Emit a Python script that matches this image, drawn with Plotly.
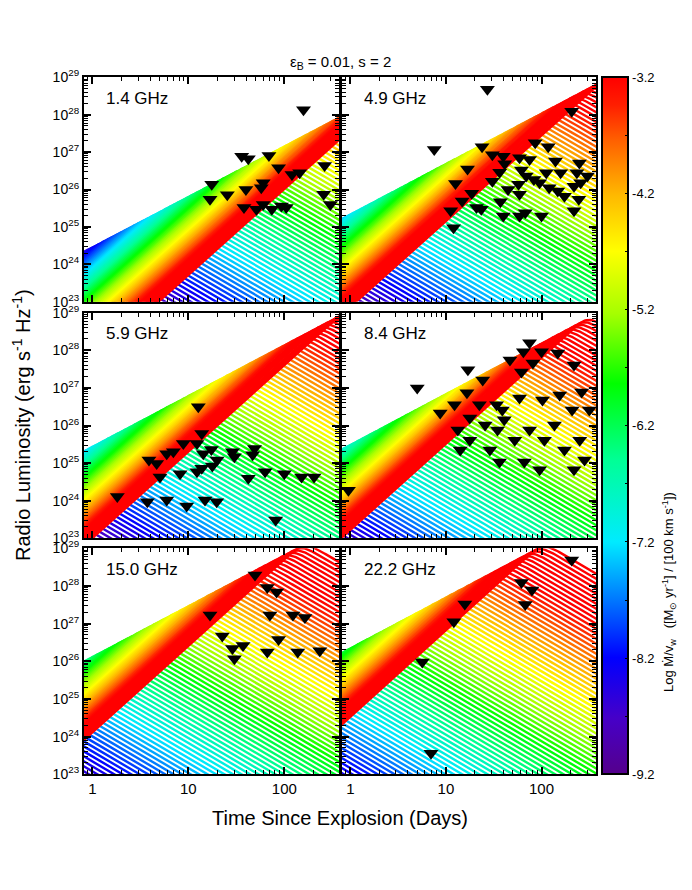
import numpy as np
import plotly.graph_objects as go

# ---------------- data ----------------
panel_labels = ["1.4 GHz", "4.9 GHz", "5.9 GHz", "8.4 GHz", "15.0 GHz", "22.2 GHz"]

# model light-curve family, per panel: log L at t = 1 d for the densest wind of the grid
thick_norm = [21.39, 22.84, 22.98, 23.20, 24.09, 24.50]   # optically thick rise
thin_norm = [34.03, 33.20, 33.18, 32.72, 32.57, 32.26]    # optically thin decline
rise_index = 2.3
rise_mdot_index = -0.52
decline_index = -1.5
decline_mdot_index = 1.56
peak_sharpness = 2.5
log_mdot_max = -2.35
log_mdot_grid = np.round(np.arange(-9.2, log_mdot_max + 1e-6, 0.085), 4)

# upper limits (log10 days, log10 erg/s/Hz)
lim_1p4_logt = [2.20, 1.556, 1.625, 1.84, 1.94, 1.244, 1.226, 1.406, 1.60, 1.78, 1.76, 1.58, 1.71,
                1.78, 1.87, 1.97, 2.02, 2.08, 2.16, 2.42, 2.41, 2.48]
lim_1p4_logL = [28.13, 26.89, 26.82, 26.91, 26.58, 26.14, 25.74, 25.86, 26.00, 26.18, 26.05, 25.52, 25.47,
                25.60, 25.47, 25.56, 25.52, 26.40, 26.45, 26.64, 25.87, 25.60]
lim_4p9_logt = [1.434, 0.878, 1.378, 1.486, 1.60, 2.316, 1.934, 2.07, 1.77, 1.875, 2.146, 2.396, 1.226,
                1.615, 1.5625, 1.79, 2.05, 2.20, 2.37, 2.48, 1.10, 1.486, 1.65, 1.76, 1.84, 1.92, 1.98,
                2.08, 2.17, 2.24, 2.34, 2.41, 2.39, 1.27, 1.17, 1.57, 1.77, 1.32, 1.37, 1.05, 1.60, 1.77,
                1.83, 2.00, 2.34, 1.08]
lim_4p9_logL = [28.68, 27.07, 27.14, 26.93, 26.89, 28.09, 27.25, 27.14, 26.85, 26.80, 26.76, 26.71, 26.55,
                26.69, 26.46, 26.52, 26.45, 26.45, 26.45, 26.36, 26.16, 26.22, 26.00, 26.14, 26.36, 26.27,
                26.18, 26.05, 25.96, 25.82, 26.09, 26.18, 25.74, 25.90, 25.69, 25.67, 25.87, 25.52, 25.47,
                25.43, 25.29, 25.29, 25.38, 25.29, 25.43, 24.98]
lim_5p9_logt = [1.104, 1.14, 1.09, 0.948, 0.844, 0.775, 0.59, 0.67, 0.705, 0.914, 1.156, 1.24, 1.30, 1.25,
                1.14, 1.09, 1.46, 1.48, 1.69, 1.67, 1.625, 1.80, 2.00, 2.18, 2.31, 0.26, 0.573, 0.775,
                0.983, 1.174, 1.296, 1.91]
lim_5p9_logL = [26.50, 25.79, 25.52, 25.52, 25.30, 25.25, 25.08, 24.99, 24.63, 24.72, 25.25, 25.36, 25.08,
                24.92, 24.86, 24.77, 25.30, 25.17, 25.39, 25.22, 24.60, 24.77, 24.72, 24.63, 24.63, 24.11,
                23.97, 24.02, 23.86, 24.02, 23.97, 23.49]
lim_8p4_logt = [1.875, 1.81, 2.00, 2.17, 1.67, 1.91, 2.34, 1.23, 1.79, 1.385, 0.70, 1.22, 1.09, 1.35, 1.53,
                1.59, 1.77, 2.01, 2.19, 2.42, 2.32, 2.50, 0.94, 1.25, 1.41, 1.54, 1.61, 1.72, 1.875, 2.03,
                2.135, 2.24, 2.40, 2.45, 1.25, 1.46, 1.56, 1.82, 1.98, 2.34, 1.15, 1.125, -0.02]
lim_8p4_logL = [28.20, 27.96, 27.96, 27.93, 27.74, 27.66, 27.61, 27.48, 27.42, 27.21, 27.00, 26.87, 26.55,
                26.55, 26.55, 26.41, 26.73, 26.68, 26.81, 26.89, 26.41, 26.41, 26.33, 26.20, 26.01, 25.88,
                26.15, 25.61, 25.88, 25.61, 26.01, 25.35, 25.61, 25.08, 25.61, 25.35, 25.03, 25.03, 24.82,
                24.82, 25.35, 25.88, 24.28]
lim_15p0_logt = [1.695, 1.823, 1.92, 1.226, 1.85, 2.09, 2.215, 1.354, 1.94, 1.46, 1.57, 1.48, 1.823, 2.14, 2.37]
lim_15p0_logL = [28.29, 27.96, 27.84, 27.23, 27.23, 27.23, 27.16, 26.67, 26.58, 26.34, 26.42, 26.07, 26.25,
                 26.25, 26.28]
lim_22p2_logt = [2.316, 1.79, 1.90, 1.83, 1.198, 1.083, 0.753, 0.844]
lim_22p2_logL = [28.69, 28.09, 27.89, 27.51, 27.52, 27.05, 25.98, 23.56]

limits_logt = [lim_1p4_logt, lim_4p9_logt, lim_5p9_logt, lim_8p4_logt, lim_15p0_logt, lim_22p2_logt]
limits_logL = [lim_1p4_logL, lim_4p9_logL, lim_5p9_logL, lim_8p4_logL, lim_15p0_logL, lim_22p2_logL]

y_tick_exponents = [23, 24, 25, 26, 27, 28, 29]
x_tick_values = [1, 10, 100]
cbar_ticks = [-3.2, -3.7, -4.2, -4.7, -5.2, -5.7, -6.2, -6.7, -7.2, -7.7, -8.2, -8.7, -9.2]
cbar_labels = ["-3.2", "", "-4.2", "", "-5.2", "", "-6.2", "", "-7.2", "", "-8.2", "", "-9.2"]

# ---------------- styling ----------------
W, H = 676, 874          # page is 692 x 890 with an 8 px body margin
col_px = [(76, 331), (334, 588)]
row_px = [(69.3, 293.7), (304.7, 530.3), (540.3, 766.3)]
x_range = [-0.087, 2.57]
y_range = [23, 29]
cmin, cmax = -9.2, -3.2

cstops = [(0.0, (85, 0, 140)), (0.08, (70, 0, 200)), (0.167, (0, 0, 255)), (0.25, (0, 120, 255)),
          (0.333, (0, 235, 255)), (0.45, (0, 255, 150)), (0.56, (0, 255, 0)), (0.66, (165, 255, 0)),
          (0.75, (255, 255, 0)), (0.83, (255, 185, 0)), (0.91, (255, 95, 0)), (0.96, (255, 30, 0)),
          (1.0, (255, 0, 0))]
colorscale = [[p, "rgb(%d,%d,%d)" % c] for p, c in cstops]


def cmap(val):
    f = (val - cmin) / (cmax - cmin)
    f = min(max(f, 0), 1)
    for (p0, c0), (p1, c1) in zip(cstops[:-1], cstops[1:]):
        if f <= p1:
            w = (f - p0) / (p1 - p0) if p1 > p0 else 0
            c = [round(c0[j] + w * (c1[j] - c0[j])) for j in range(3)]
            return "rgb(%d,%d,%d)" % tuple(c)
    return "rgb(255,0,0)"


fig = go.Figure()
layout = dict(width=W, height=H, margin=dict(l=0, r=0, t=0, b=0, autoexpand=False),
              paper_bgcolor="white", plot_bgcolor="white", showlegend=False,
              font=dict(family="Liberation Sans, Arial, sans-serif", color="black"))

minor_x = [m * 10 ** k for k in range(-1, 3) for m in range(2, 10)]
minor_y = [m * 10.0 ** k for k in range(23, 29) for m in range(2, 10)]

u = np.linspace(-0.15, 2.65, 170)
annotations = []
for i in range(6):
    r, c = divmod(i, 2)
    n = i + 1
    xa = "x" if n == 1 else "x%d" % n
    ya = "y" if n == 1 else "y%d" % n
    x0, x1 = col_px[c]
    y0, y1 = row_px[r]
    layout["xaxis" if n == 1 else "xaxis%d" % n] = dict(
        type="log", range=x_range, domain=[x0 / W, x1 / W], anchor=ya, automargin=False,
        showline=True, linecolor="black", linewidth=2.2, mirror="ticks",
        ticks="inside", ticklen=7, tickwidth=1.5, tickcolor="black",
        tickmode="array", tickvals=x_tick_values, ticktext=[str(v) for v in x_tick_values],
        showticklabels=(r == 2), tickfont=dict(size=15), showgrid=False, zeroline=False,
        minor=dict(tickmode="array", tickvals=minor_x, ticks="inside", ticklen=4,
                   tickwidth=1, tickcolor="black", showgrid=False))
    layout["yaxis" if n == 1 else "yaxis%d" % n] = dict(
        type="log", range=y_range, domain=[1 - y1 / H, 1 - y0 / H], anchor=xa, automargin=False,
        showline=True, linecolor="black", linewidth=2.2, mirror="ticks",
        ticks="inside", ticklen=7, tickwidth=1.5, tickcolor="black",
        tickmode="array", tickvals=[10.0 ** e for e in y_tick_exponents],
        ticktext=["10<sup>%d</sup>" % e for e in y_tick_exponents],
        showticklabels=(c == 0), tickfont=dict(size=14), showgrid=False, zeroline=False,
        minor=dict(tickmode="array", tickvals=minor_y, ticks="inside", ticklen=4,
                   tickwidth=1, tickcolor="black", showgrid=False))

    # light curve family, low mass-loss first so denser winds overlay
    for lm in log_mdot_grid:
        d = lm - log_mdot_max
        thick = thick_norm[i] + rise_index * u + rise_mdot_index * d
        thin = thin_norm[i] + decline_index * u + decline_mdot_index * d
        k = peak_sharpness
        v = thick - np.log10(1 + 10 ** (k * (thick - thin))) / k
        fig.add_trace(go.Scatter(x=10 ** u, y=10 ** v, mode="lines", xaxis=xa, yaxis=ya,
                                 line=dict(color=cmap(lm), width=2.4), hoverinfo="skip"))

    fig.add_trace(go.Scatter(x=10 ** np.array(limits_logt[i]), y=10 ** np.array(limits_logL[i]),
                             mode="markers", xaxis=xa, yaxis=ya,
                             marker=dict(symbol="triangle-down", size=13, color="black",
                                         line=dict(width=0))))
    annotations.append(dict(text=panel_labels[i], xref="%s domain" % xa, yref="%s domain" % ya,
                            x=20 / (x1 - x0), y=1 - 21 / (y1 - y0), xanchor="left", yanchor="middle",
                            showarrow=False, font=dict(size=17)))

# colour bar via a clipped dummy point
fig.add_trace(go.Scatter(x=[1], y=[1e20], mode="markers", xaxis="x", yaxis="y",
                         marker=dict(color=[-6], cmin=cmin, cmax=cmax, colorscale=colorscale,
                                     showscale=True, size=1,
                                     colorbar=dict(x=594 / W, xanchor="left", y=1 - 417.8 / H,
                                                   yanchor="middle", len=697 / H, lenmode="fraction",
                                                   thickness=26, thicknessmode="pixels",
                                                   outlinewidth=2, outlinecolor="black",
                                                   tickvals=cbar_ticks, ticktext=cbar_labels,
                                                   ticks="inside", ticklen=4, tickcolor="black",
                                                   tickfont=dict(size=13), xpad=0, ypad=0))))

annotations += [
    dict(text="\u03b5<sub>B</sub> = 0.01, s = 2", xref="paper", yref="paper", x=332 / W, y=1 - 54 / H,
         showarrow=False, font=dict(size=15), xanchor="center", yanchor="middle"),
    dict(text="Radio Luminosity (erg s<sup>-1</sup> Hz<sup>-1</sup>)", xref="paper", yref="paper",
         x=13 / W, y=1 - 417 / H, textangle=-90, showarrow=False, font=dict(size=20),
         xanchor="center", yanchor="middle"),
    dict(text="Time Since Explosion (Days)", xref="paper", yref="paper", x=332 / W, y=1 - 810 / H,
         showarrow=False, font=dict(size=20), xanchor="center", yanchor="middle"),
    dict(text="Log \u1e40/v<sub>w</sub>   ([M<sub>\u2299</sub> yr<sup>-1</sup>] / [100 km s<sup>-1</sup>])",
         xref="paper", yref="paper", x=661 / W, y=1 - 584 / H, textangle=-90, showarrow=False,
         font=dict(size=13), xanchor="center", yanchor="middle"),
]
layout["annotations"] = annotations
fig.update_layout(**layout)
fig.write_html("out.html")
